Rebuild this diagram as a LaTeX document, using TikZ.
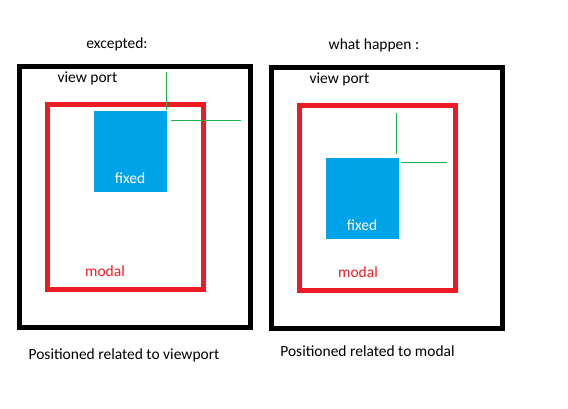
\documentclass[tikz,border=0pt]{standalone}
\usepackage{fontspec}
\setmainfont{Carlito}
\definecolor{paintred}{HTML}{ED1C24}
\definecolor{paintblue}{HTML}{00A2E8}
\definecolor{paintgreen}{HTML}{22B14C}
\begin{document}
\begin{tikzpicture}[x=1pt, y=-1pt,
    lbl/.style={font=\fontsize{15.5}{18}\selectfont, inner sep=0pt}]
        \useasboundingbox (0, 0) rectangle (568, 408);
        % left: excepted
        \draw[line width = 5pt] (19.5, 66.5) rectangle (250, 327);
        \draw[paintred, line width = 5pt] (47.5, 104.5) rectangle (203.5, 289.5);
        \fill[paintblue] (94, 111) rectangle (167, 192);
        \draw[paintgreen, line width = 1pt] (166.5, 72) -- (166.5, 110);
        \draw[paintgreen, line width = 1pt] (171, 120) -- (241, 120);
        % right: what happen
        \draw[line width = 5pt] (271.5, 67.5) rectangle (502.5, 328.5);
        \draw[paintred, line width = 5pt] (299.5, 105.5) rectangle (455.5, 290.5);
        \fill[paintblue] (326, 158) rectangle (399, 239);
        \draw[paintgreen, line width = 1pt] (396.5, 113) -- (396.5, 154);
        \draw[paintgreen, line width = 1pt] (401, 162.5) -- (447, 162.5);
        % labels
        \node[lbl] (titleL) at (117, 44) {excepted:};
        \node[lbl] (titleR) at (374, 45) {what happen :};
        \node[lbl] (vpL) at (87.5, 78) {view port};
        \node[lbl] (vpR) at (339.5, 79) {view port};
        \node[lbl, white] (fixL) at (130, 178) {fixed};
        \node[lbl, white] (fixR) at (362, 225) {fixed};
        \node[lbl, paintred] (modL) at (105, 271) {modal};
        \node[lbl, paintred] (modR) at (358, 272) {modal};
        \node[lbl] (capL) at (124, 355) {Positioned related to viewport};
        \node[lbl] (capR) at (367.5, 351) {Positioned related to modal};
\end{tikzpicture}
\end{document}
